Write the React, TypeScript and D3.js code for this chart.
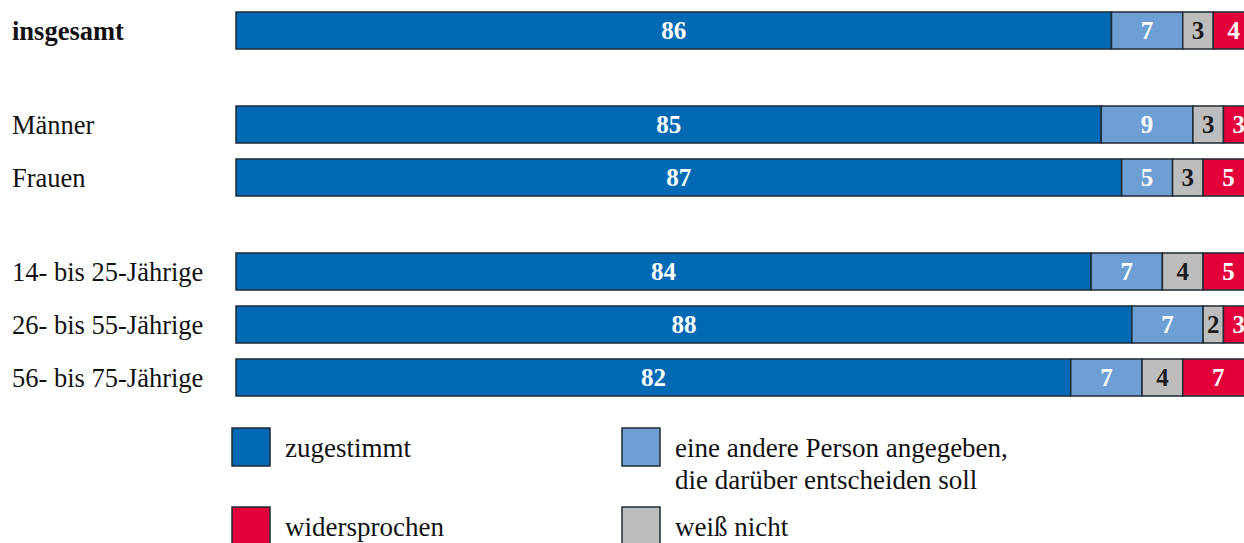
import React from "react";
import * as d3 from "d3";

const categories = ["insgesamt", "Männer", "Frauen", "14- bis 25-Jährige", "26- bis 55-Jährige", "56- bis 75-Jährige"];
const groups = [0, 1, 1, 2, 2, 2];
const boldCategory = [true, false, false, false, false, false];

const seriesNames = ["zugestimmt", "eine andere Person angegeben, die darüber entscheiden soll", "weiß nicht", "widersprochen"];
const zugestimmt = [86, 85, 87, 84, 88, 82];
const anderePerson = [7, 9, 5, 7, 7, 7];
const weissNicht = [3, 3, 3, 4, 2, 4];
const widersprochen = [4, 3, 5, 5, 3, 7];

const colors = ["#0069b4", "#6d9ed4", "#bdbdbd", "#e3003a"];
const labelColors = ["#ffffff", "#ffffff", "#1a1a1a", "#ffffff"];

const W = 1244;
const H = 543;
const FONT = "'Liberation Serif', 'Times New Roman', serif";

export default function App() {
  const x = d3.scaleLinear().domain([0, 100]).range([236, 1254]);
  const rowPitch = 53;
  const groupGap = 41;
  const barH = 37;
  const yTop = (i: number) => 12 + i * rowPitch + groups[i] * groupGap;

  const rows = categories.map((c, i) => ({
    cat: c,
    zugestimmt: zugestimmt[i],
    andere: anderePerson[i],
    weiss: weissNicht[i],
    wider: widersprochen[i],
  }));
  const keys = ["zugestimmt", "andere", "weiss", "wider"];
  const stacked = d3.stack<any>().keys(keys)(rows);

  const legend = [
    { s: 0, x: 232, y: 428, lines: ["zugestimmt"] },
    { s: 1, x: 622, y: 428, lines: ["eine andere Person angegeben,", "die darüber entscheiden soll"] },
    { s: 3, x: 232, y: 507, lines: ["widersprochen"] },
    { s: 2, x: 622, y: 507, lines: ["weiß nicht"] },
  ];

  return (
    <svg width={W} height={H} style={{ position: "absolute", left: 0, top: 0, background: "#fff" }}>
      <rect x={0} y={0} width={W} height={H} fill="#fff" />
      {categories.map((c, i) => (
        <text
          key={c}
          x={12}
          y={yTop(i) + barH / 2 + 9}
          fontFamily={FONT}
          fontSize={26.5}
          fontWeight={boldCategory[i] ? "bold" : "normal"}
          fill="#111"
        >
          {c}
        </text>
      ))}
      {stacked.map((layer, si) =>
        layer.map((d, i) => {
          const x0 = x(d[0]);
          const x1 = x(d[1]);
          const v = d[1] - d[0];
          return (
            <g key={`${si}-${i}`}>
              <rect
                x={x0}
                y={yTop(i)}
                width={x1 - x0}
                height={barH}
                fill={colors[si]}
                stroke="#1f2a33"
                strokeWidth={1.5}
              />
              <text
                x={(x0 + x1) / 2}
                y={yTop(i) + barH / 2 + 8.5}
                textAnchor="middle"
                fontFamily={FONT}
                fontSize={25}
                fontWeight="bold"
                fill={labelColors[si]}
              >
                {v}
              </text>
            </g>
          );
        })
      )}
      {legend.map((l) => (
        <g key={l.s}>
          <rect x={l.x} y={l.y} width={38} height={38} fill={colors[l.s]} stroke="#1f2a33" strokeWidth={1.5} />
          {l.lines.map((t, k) => (
            <text key={k} x={l.x + 53} y={l.y + 29 + k * 32} fontFamily={FONT} fontSize={27} fill="#111">
              {t}
            </text>
          ))}
        </g>
      ))}
    </svg>
  );
}
